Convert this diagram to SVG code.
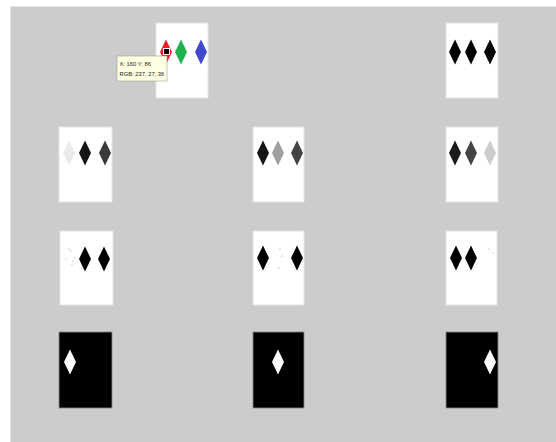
<svg xmlns="http://www.w3.org/2000/svg" xmlns:xlink="http://www.w3.org/1999/xlink" width="556" height="442" viewBox="0 0 556 442">
<style>
.panel{fill:#ffffff;stroke:#e4e4e4;stroke-width:1}
.panelb{fill:#000000;stroke:#8a8a8a;stroke-width:0.8}
.tip{fill:#ffffe1;stroke:#9a9a9a;stroke-width:0.6}
.tt{font-family:"Liberation Sans",Arial,sans-serif;font-size:5.8px;fill:#222}
.dot{fill:#8a8a8a}
</style>
<defs>
<path id="d" d="M0,-12.5 L6,0 L0,12.5 L-6,0 Z"/>
</defs>
<rect x="0" y="0" width="556" height="442" fill="#ffffff"/>
<rect x="10.5" y="6.5" width="546" height="436" fill="#cccccc"/>

<g id="img-original">
<rect class="panel" x="156" y="23" width="52" height="75"/>
<use xlink:href="#d" x="166" y="52" fill="#ed1b24"/>
<use xlink:href="#d" x="181" y="52" fill="#22b14c"/>
<use xlink:href="#d" x="201" y="52" fill="#3f48cc"/>
<rect x="163.5" y="48.5" width="6" height="6" fill="#000" stroke="#fff" stroke-width="1"/>
</g>
<g id="tooltip">
<rect class="tip" x="117" y="56" width="50" height="25"/>
<text class="tt" x="119.5" y="66">X: 160 Y: 86</text>
<text class="tt" x="119.5" y="76">RGB: 237, 27, 36</text>
</g>
<g id="img-gray">
<rect class="panel" x="446" y="23" width="52" height="75"/>
<use xlink:href="#d" x="455" y="52" fill="#050505"/>
<use xlink:href="#d" x="471" y="52" fill="#050505"/>
<use xlink:href="#d" x="490" y="52" fill="#050505"/>
</g>

<g id="img-r">
<rect class="panel" x="59" y="127" width="53" height="75"/>
<use xlink:href="#d" x="69" y="153" fill="#ebebeb"/>
<use xlink:href="#d" x="85" y="153" fill="#141414"/>
<use xlink:href="#d" x="105" y="153" fill="#3a3a3a"/>
</g>
<g id="img-g">
<rect class="panel" x="253" y="127" width="51" height="75"/>
<use xlink:href="#d" x="263" y="153" fill="#141414"/>
<use xlink:href="#d" x="278" y="153" fill="#a0a0a0"/>
<use xlink:href="#d" x="297" y="153" fill="#444444"/>
</g>
<g id="img-b">
<rect class="panel" x="446" y="127" width="52" height="75"/>
<use xlink:href="#d" x="455" y="153" fill="#1a1a1a"/>
<use xlink:href="#d" x="471" y="153" fill="#444444"/>
<use xlink:href="#d" x="490" y="153" fill="#cccccc"/>
</g>

<g id="bin-r">
<rect class="panel" x="60" y="231" width="53" height="74"/>
<circle class="dot" cx="69" cy="249" r="0.6"/>
<circle class="dot" cx="71" cy="251" r="0.5"/>
<circle class="dot" cx="66" cy="259" r="0.5"/>
<circle class="dot" cx="75" cy="258" r="0.6"/>
<circle class="dot" cx="73" cy="261" r="0.5"/>
<circle class="dot" cx="72" cy="265" r="0.5"/>
<use xlink:href="#d" x="85" y="259" fill="#000"/>
<use xlink:href="#d" x="104" y="259" fill="#000"/>
</g>
<g id="bin-g">
<rect class="panel" x="253" y="231" width="51" height="74"/>
<circle class="dot" cx="280" cy="249" r="0.6"/>
<circle class="dot" cx="282" cy="256" r="0.6"/>
<circle class="dot" cx="279" cy="268" r="0.6"/>
<use xlink:href="#d" x="263" y="258" fill="#000"/>
<use xlink:href="#d" x="297" y="258" fill="#000"/>
</g>
<g id="bin-b">
<rect class="panel" x="446" y="231" width="51" height="74"/>
<circle class="dot" cx="489" cy="249" r="0.5"/>
<circle class="dot" cx="493" cy="253" r="0.6"/>
<use xlink:href="#d" x="456" y="258" fill="#000"/>
<use xlink:href="#d" x="471" y="258" fill="#000"/>
</g>

<g id="mask-r">
<rect class="panelb" x="59" y="332" width="53" height="76"/>
<use xlink:href="#d" x="70" y="362" fill="#fff"/>
</g>
<g id="mask-g">
<rect class="panelb" x="253" y="332" width="51" height="76"/>
<use xlink:href="#d" x="278" y="362" fill="#fff"/>
</g>
<g id="mask-b">
<rect class="panelb" x="446" y="332" width="52" height="76"/>
<use xlink:href="#d" x="490" y="362" fill="#fff"/>
</g>

<g id="connectors"></g>
</svg>
